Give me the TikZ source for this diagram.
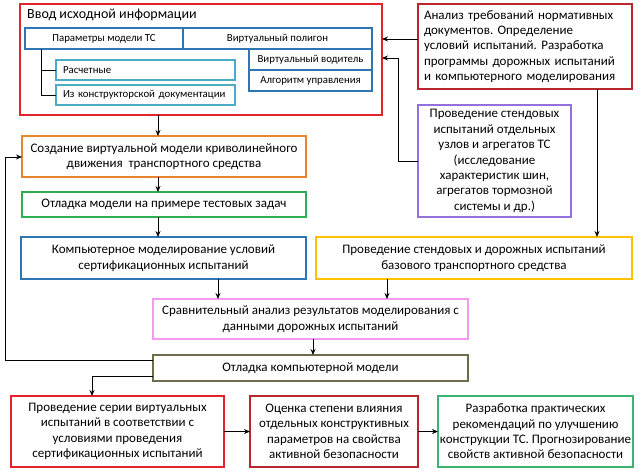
\documentclass[tikz,border=0pt]{standalone}
\usepackage{fontspec}
\setmainfont{Carlito}
\frenchspacing
\usetikzlibrary{arrows.meta}
\definecolor{cRed}{HTML}{E5232B}
\definecolor{cDRed}{HTML}{B8262E}
\definecolor{cBlue}{HTML}{2E75B6}
\definecolor{cTeal}{HTML}{4BACC6}
\definecolor{cPurple}{HTML}{9370DB}
\definecolor{cOrange}{HTML}{E8832E}
\definecolor{cGreen}{HTML}{2EAF55}
\definecolor{cYellow}{HTML}{FFC000}
\definecolor{cPink}{HTML}{F29BEF}
\definecolor{cOlive}{HTML}{6F6C4C}
\definecolor{cGreen2}{HTML}{3CB371}
\begin{document}
\begin{tikzpicture}[x=1pt,y=-1pt,
  box/.style={draw, line width=1.4pt, anchor=north west, inner sep=0pt, outer sep=0pt, align=center, font=\fontsize{13}{15.4}\selectfont},
  sbox/.style={draw=cBlue, line width=1.1pt, anchor=north west, inner sep=0pt, outer sep=0pt, align=center, font=\fontsize{10.8}{12}\selectfont},
  tbox/.style={draw=cTeal, line width=1.4pt, anchor=north west, inner sep=0pt, outer sep=0pt, font=\fontsize{10.8}{12}\selectfont},
  arr/.style={-{Stealth[length=6pt,width=5pt]}, line width=0.8pt, black},
  ln/.style={line width=0.8pt, black}]
\useasboundingbox (0,0) rectangle (642,475);
% input block
\node[box, draw=cRed, minimum width=362pt, minimum height=111pt] (input) at (20,4) {};
\node[anchor=west, inner sep=0pt, font=\fontsize{14}{16}\selectfont] (title) at (27,15) {Ввод исходной информации};
\node[sbox, minimum width=158pt, minimum height=21pt] (params) at (25,28) {Параметры модели ТС};
\node[sbox, minimum width=189pt, minimum height=21pt] (polygon) at (183,28) {Виртуальный полигон};
\node[sbox, minimum width=123pt, minimum height=21pt] (driver) at (249,49) {Виртуальный водитель};
\node[sbox, minimum width=123pt, minimum height=21pt] (algo) at (249,70) {Алгоритм управления};
\node[tbox, minimum width=179pt, minimum height=20pt, text width=165pt] (calc) at (56,60) {Расчетные};
\node[tbox, minimum width=179pt, minimum height=20pt, text width=165pt] (docs) at (56,85) {Из конструкторской документации};
\coordinate (t0) at (41,49);
\coordinate (t1) at (41,70);
\coordinate (t2) at (41,95);
\draw[ln] (t0) -- (t2) -- (docs.west);
\draw[ln] (t1) -- (calc.west);
% right side
\node[box, draw=cDRed, minimum width=214pt, minimum height=85pt, text width=202pt, align=left] (analysis) at (418,4) {Анализ требований нормативных\\документов. Определение\\условий испытаний. Разработка\\программы дорожных испытаний\\и компьютерного моделирования};
\node[box, draw=cPurple, minimum width=153pt, minimum height=112pt] (bench) at (418,105) {Проведение стендовых\\испытаний отдельных\\узлов и агрегатов ТС\\(исследование\\характеристик шин,\\агрегатов тормозной\\системы и др.)};
% main column
\node[box, draw=cOrange, minimum width=284pt, minimum height=41pt] (create) at (22,136) {Создание виртуальной модели криволинейного\\движения\ \ транспортного средства};
\node[box, draw=cGreen, minimum width=284pt, minimum height=25pt] (debug1) at (22,192) {Отладка модели на примере тестовых задач};
\node[box, draw=cBlue, minimum width=285pt, minimum height=42pt] (compmod) at (21,237) {Компьютерное моделирование условий\\сертификационных испытаний};
\node[box, draw=cYellow, minimum width=316pt, minimum height=42pt] (road) at (316,237) {Проведение стендовых и дорожных испытаний\\базового транспортного средства};
\node[box, draw=cPink, minimum width=315pt, minimum height=40pt] (compare) at (153,299) {Сравнительный анализ результатов моделирования с\\данными дорожных испытаний};
\node[box, draw=cOlive, minimum width=315pt, minimum height=26pt] (debug2) at (153,355) {Отладка компьютерной модели};
\node[box, draw=cRed, minimum width=213pt, minimum height=71pt] (series) at (11,396) {Проведение серии виртуальных\\испытаний в соответствии с\\условиями проведения\\сертификационных испытаний};
\node[box, draw=cDRed, minimum width=168pt, minimum height=71pt] (assess) at (250,396) {Оценка степени влияния\\отдельных конструктивных\\параметров на свойства\\активной безопасности};
\node[box, draw=cGreen2, minimum width=195pt, minimum height=71pt] (recom) at (438,396) {Разработка практических\\рекомендаций по улучшению\\конструкции ТС. Прогнозирование\\свойств активной безопасности};
% connectors
\draw[arr] (analysis.west |- 0,39) -- (input.east |- 0,39);
\coordinate (b1) at (398,161);
\coordinate (b2) at (398,58);
\draw[arr] (bench.west) -- (b1) -- (b2) -- (input.east |- b2);
\draw[arr] (analysis.south -| 597,0) -- (road.north -| 597,0);
\draw[arr] (input.south -| 158,0) -- (create.north -| 158,0);
\draw[arr] (create.south -| 158,0) -- (debug1.north -| 158,0);
\draw[arr] (debug1.south -| 158,0) -- (compmod.north -| 158,0);
\draw[arr] (compmod.south -| 218,0) -- (compare.north -| 218,0);
\draw[arr] (road.south -| 387,0) -- (compare.north -| 387,0);
\draw[arr] (compare.south -| 313,0) -- (debug2.north -| 313,0);
\coordinate (f1) at (5,360);
\coordinate (f2) at (5,157);
\draw[arr] (debug2.west |- f1) -- (f1) -- (f2) -- (create.west |- f2);
\coordinate (g1) at (92,376);
\draw[arr] (debug2.west |- g1) -- (g1) -- (series.north -| g1);
\draw[arr] (series.east) -- (assess.west);
\draw[arr] (assess.east) -- (recom.west);
\end{tikzpicture}
\end{document}
